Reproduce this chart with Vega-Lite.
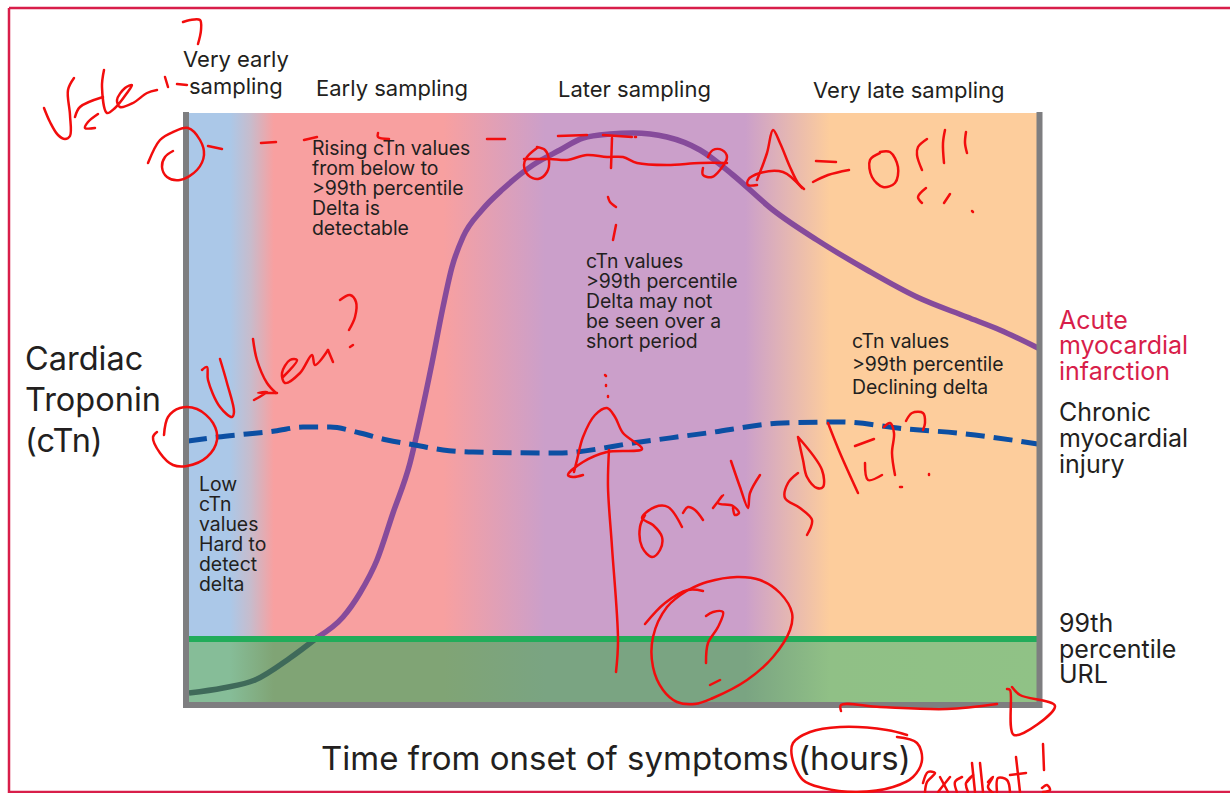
{"$schema":"https://vega.github.io/schema/vega-lite/v6.json","width":1230,"height":793,"padding":0,"autosize":{"type":"none"},"background":"white","config":{"view":{"stroke":null}},
"resolve":{"scale":{"color":"independent"}},
"datasets":{
"zone":[{"h":3,"h2":851,"l":3,"l2":592}],
"band":[{"h":3,"h2":851,"l":3,"l2":63}],
"frames":[{"h":-177,"h2":-177,"l":697,"l2":-88},{"h":-177,"h2":1044,"l":697,"l2":697},{"h":-177,"h2":1044,"l":-87,"l2":-87}],
"axes":[{"h":0,"h2":0,"l":593,"l2":-3},{"h":-3,"h2":856,"l":0,"l2":0},{"h":853.5,"h2":853.5,"l":593,"l2":-3}],
"url":[{"h":3,"h2":851,"l":66,"l2":66}],
"ami":[{"s":"above","h":132,"l":68},{"s":"above","h":157,"l":88},{"s":"above","h":174,"l":112},{"s":"above","h":191,"l":145},{"s":"above","h":207,"l":192},{"s":"above","h":224,"l":242},{"s":"above","h":234,"l":285},{"s":"above","h":246,"l":342},{"s":"above","h":257,"l":398},{"s":"above","h":266,"l":438},{"s":"above","h":277,"l":468},{"s":"above","h":296,"l":495},{"s":"above","h":317,"l":516},{"s":"above","h":347,"l":540},{"s":"above","h":374,"l":555},{"s":"above","h":397,"l":567},{"s":"above","h":424,"l":571},{"s":"above","h":447,"l":572},{"s":"above","h":481,"l":568},{"s":"above","h":514,"l":555},{"s":"above","h":547,"l":530},{"s":"above","h":587,"l":495},{"s":"above","h":631,"l":465},{"s":"above","h":681,"l":435},{"s":"above","h":731,"l":408},{"s":"above","h":781,"l":388},{"s":"above","h":814,"l":375},{"s":"above","h":852,"l":357},{"s":"below","h":3,"l":12},{"s":"below","h":37,"l":17},{"s":"below","h":69,"l":25},{"s":"below","h":104,"l":47},{"s":"below","h":132,"l":68}],
"chronic":[{"h":2,"l":264},{"h":32,"l":268},{"h":61,"l":271},{"h":89,"l":274},{"h":117,"l":278},{"h":144,"l":278},{"h":174,"l":272},{"h":201,"l":265},{"h":229,"l":260},{"h":257,"l":255},{"h":287,"l":253},{"h":371,"l":252},{"h":454,"l":263},{"h":521,"l":272},{"h":597,"l":282},{"h":654,"l":283},{"h":721,"l":276},{"h":771,"l":272},{"h":852,"l":261}],
"labels":[
{"role":"note","h":126,"l":556.5,"label":"Rising cTn values"},{"role":"note","h":126,"l":536.5,"label":"from below to"},{"role":"note","h":126,"l":516.5,"label":">99th percentile"},{"role":"note","h":126,"l":496.5,"label":"Delta is"},{"role":"note","h":126,"l":476.5,"label":"detectable"},
{"role":"note","h":400,"l":443,"label":"cTn values"},{"role":"note","h":400,"l":423,"label":">99th percentile"},{"role":"note","h":400,"l":403,"label":"Delta may not"},{"role":"note","h":400,"l":383,"label":"be seen over a"},{"role":"note","h":400,"l":363,"label":"short period"},
{"role":"note","h":666,"l":363,"label":"cTn values"},{"role":"note","h":666,"l":340,"label":">99th percentile"},{"role":"note","h":666,"l":317,"label":"Declining delta"},
{"role":"note","h":13,"l":220,"label":"Low"},{"role":"note","h":13,"l":200,"label":"cTn"},{"role":"note","h":13,"l":180,"label":"values"},{"role":"note","h":13,"l":160,"label":"Hard to"},{"role":"note","h":13,"l":140,"label":"detect"},{"role":"note","h":13,"l":120,"label":"delta"},
{"role":"head","h":-3,"l":645,"label":"Very early"},{"role":"head","h":3,"l":618,"label":"sampling"},{"role":"head","h":130,"l":616,"label":"Early sampling"},{"role":"head","h":372,"l":615,"label":"Later sampling"},{"role":"head","h":627,"l":614,"label":"Very late sampling"},
{"role":"axis","h":135,"l":-55,"label":"Time from onset of symptoms (hours)"},
{"role":"ylab","h":-161,"l":345,"label":"Cardiac"},{"role":"ylab","h":-161,"l":304,"label":"Troponin"},{"role":"ylab","h":-161,"l":263,"label":"(cTn)"},
{"role":"acute","h":873,"l":384,"label":"Acute"},{"role":"acute","h":873,"l":359,"label":"myocardial"},{"role":"acute","h":873,"l":333,"label":"infarction"},
{"role":"side","h":873,"l":292,"label":"Chronic"},{"role":"side","h":873,"l":266,"label":"myocardial"},{"role":"side","h":873,"l":240,"label":"injury"},
{"role":"side","h":873,"l":81,"label":"99th"},{"role":"side","h":873,"l":55,"label":"percentile"},{"role":"side","h":873,"l":30,"label":"URL"}],
"ink":[
{"s":"a1","h":-3,"l":683},{"s":"a1","h":4,"l":685},{"s":"a1","h":14,"l":685},{"s":"a1","h":15,"l":675},{"s":"a1","h":12,"l":661},
{"s":"a2","h":-142,"l":597},{"s":"a2","h":-136,"l":583},{"s":"a2","h":-128,"l":570},{"s":"a2","h":-121,"l":566},{"s":"a2","h":-116,"l":569},{"s":"a2","h":-116,"l":590},{"s":"a2","h":-118,"l":615},{"s":"a2","h":-112,"l":627},
{"s":"a3","h":-111,"l":588},{"s":"a3","h":-106,"l":598},{"s":"a3","h":-83,"l":608},
{"s":"a4","h":-82,"l":635},{"s":"a4","h":-84,"l":618},{"s":"a4","h":-79,"l":592},{"s":"a4","h":-71,"l":597},{"s":"a4","h":-59,"l":612},{"s":"a4","h":-54,"l":620},{"s":"a4","h":-61,"l":617},{"s":"a4","h":-69,"l":605},{"s":"a4","h":-66,"l":598},{"s":"a4","h":-53,"l":602},{"s":"a4","h":-39,"l":612},{"s":"a4","h":-29,"l":615},
{"s":"a5","h":-21,"l":628},{"s":"a5","h":-18,"l":618},
{"s":"a6","h":-9,"l":621},{"s":"a6","h":1,"l":620},
{"s":"a7","h":-88,"l":591},{"s":"a7","h":-98,"l":583},{"s":"a7","h":-101,"l":577},{"s":"a7","h":-91,"l":577},
{"s":"b1","h":-38,"l":542},{"s":"b1","h":-26,"l":565},{"s":"b1","h":-13,"l":573},{"s":"b1","h":2,"l":577},{"s":"b1","h":14,"l":565},{"s":"b1","h":18,"l":550},{"s":"b1","h":11,"l":535},{"s":"b1","h":-6,"l":525},{"s":"b1","h":-19,"l":528},{"s":"b1","h":-24,"l":538},{"s":"b1","h":-21,"l":548},{"s":"b1","h":-13,"l":554},
{"s":"b2","h":22,"l":559},{"s":"b2","h":36,"l":556},
{"s":"b3","h":75,"l":562},{"s":"b3","h":90,"l":563},
{"s":"b4","h":118,"l":565},{"s":"b4","h":131,"l":568},
{"s":"b5","h":192,"l":572},{"s":"b5","h":192,"l":568},{"s":"b5","h":203,"l":566},
{"s":"b6","h":301,"l":566},{"s":"b6","h":319,"l":566},
{"s":"b7","h":372,"l":569},{"s":"b7","h":401,"l":570},
{"s":"b8","h":417,"l":570},{"s":"b8","h":446,"l":568},
{"s":"b9","h":449,"l":568},{"s":"b9","h":450,"l":568},
{"s":"c1","h":351,"l":557},{"s":"c1","h":341,"l":548},{"s":"c1","h":338,"l":540},{"s":"c1","h":342,"l":530},{"s":"c1","h":352,"l":526},{"s":"c1","h":361,"l":533},{"s":"c1","h":363,"l":545},{"s":"c1","h":359,"l":555},{"s":"c1","h":351,"l":558},
{"s":"c2","h":338,"l":546},{"s":"c2","h":364,"l":546},{"s":"c2","h":381,"l":545},{"s":"c2","h":401,"l":550},{"s":"c2","h":421,"l":548},{"s":"c2","h":437,"l":548},{"s":"c2","h":451,"l":542},{"s":"c2","h":481,"l":540},{"s":"c2","h":514,"l":542},{"s":"c2","h":541,"l":542},
{"s":"c3","h":426,"l":567},{"s":"c3","h":425,"l":537},
{"s":"c4","h":522,"l":548},{"s":"c4","h":527,"l":555},{"s":"c4","h":536,"l":555},{"s":"c4","h":541,"l":548},{"s":"c4","h":534,"l":535},{"s":"c4","h":526,"l":528},{"s":"c4","h":517,"l":530},{"s":"c4","h":517,"l":537},
{"s":"c5","h":422,"l":508},{"s":"c5","h":424,"l":503},{"s":"c5","h":430,"l":498},
{"s":"c6","h":430,"l":480},{"s":"c6","h":427,"l":465},
{"s":"d1","h":571,"l":525},{"s":"d1","h":581,"l":552},{"s":"d1","h":587,"l":575},{"s":"d1","h":594,"l":562},{"s":"d1","h":604,"l":538},{"s":"d1","h":612,"l":522},{"s":"d1","h":618,"l":516},
{"s":"d2","h":616,"l":517},{"s":"d2","h":597,"l":533},{"s":"d2","h":574,"l":532},{"s":"d2","h":562,"l":525},{"s":"d2","h":562,"l":520},{"s":"d2","h":571,"l":520},
{"s":"d3","h":630,"l":544},{"s":"d3","h":650,"l":543},
{"s":"d4","h":627,"l":523},{"s":"d4","h":642,"l":530},{"s":"d4","h":663,"l":535},
{"s":"d5","h":694,"l":552},{"s":"d5","h":684,"l":545},{"s":"d5","h":686,"l":528},{"s":"d5","h":697,"l":518},{"s":"d5","h":709,"l":522},{"s":"d5","h":712,"l":538},{"s":"d5","h":704,"l":553},{"s":"d5","h":694,"l":553},
{"s":"d6","h":741,"l":566},{"s":"d6","h":732,"l":558},{"s":"d6","h":731,"l":550},{"s":"d6","h":736,"l":535},
{"s":"d7","h":759,"l":575},{"s":"d7","h":757,"l":562},{"s":"d7","h":758,"l":542},
{"s":"d8","h":780,"l":573},{"s":"d8","h":779,"l":562},{"s":"d8","h":781,"l":552},
{"s":"d9","h":740,"l":517},{"s":"d9","h":732,"l":508},{"s":"d9","h":736,"l":502},
{"s":"d10","h":764,"l":511},{"s":"d10","h":758,"l":502},
{"s":"d11","h":786,"l":494},{"s":"d11","h":787,"l":493},
{"s":"e1","h":419,"l":330},{"s":"e1","h":420,"l":329},
{"s":"e2","h":420,"l":320},{"s":"e2","h":420,"l":319},
{"s":"e3","h":422,"l":309},{"s":"e3","h":422,"l":308},
{"s":"e4","h":397,"l":230},{"s":"e4","h":387,"l":228},{"s":"e4","h":382,"l":230},{"s":"e4","h":397,"l":243},{"s":"e4","h":421,"l":253},{"s":"e4","h":456,"l":256},{"s":"e4","h":437,"l":272},{"s":"e4","h":429,"l":288},{"s":"e4","h":421,"l":297},{"s":"e4","h":409,"l":290},{"s":"e4","h":397,"l":268},{"s":"e4","h":391,"l":245},{"s":"e4","h":388,"l":233},
{"s":"e5","h":423,"l":255},{"s":"e5","h":422,"l":218},{"s":"e5","h":426,"l":158},{"s":"e5","h":432,"l":65},{"s":"e5","h":430,"l":33},
{"s":"f1","h":459,"l":190},{"s":"f1","h":454,"l":178},{"s":"f1","h":456,"l":158},{"s":"f1","h":466,"l":148},{"s":"f1","h":474,"l":155},{"s":"f1","h":476,"l":168},{"s":"f1","h":467,"l":180},{"s":"f1","h":456,"l":187},{"s":"f1","h":469,"l":198},{"s":"f1","h":482,"l":198},{"s":"f1","h":496,"l":178},
{"s":"f2","h":497,"l":192},{"s":"f2","h":502,"l":198},{"s":"f2","h":509,"l":195},{"s":"f2","h":517,"l":185},
{"s":"f3","h":527,"l":197},{"s":"f3","h":537,"l":210},{"s":"f3","h":532,"l":202},{"s":"f3","h":547,"l":199},{"s":"f3","h":553,"l":192},{"s":"f3","h":549,"l":190},{"s":"f3","h":547,"l":197},
{"s":"f4","h":545,"l":244},{"s":"f4","h":554,"l":218},{"s":"f4","h":562,"l":197},{"s":"f4","h":564,"l":212},{"s":"f4","h":574,"l":230},
{"s":"f5","h":612,"l":232},{"s":"f5","h":602,"l":222},{"s":"f5","h":599,"l":207},{"s":"f5","h":614,"l":197},{"s":"f5","h":626,"l":185},{"s":"f5","h":621,"l":170},
{"s":"f6","h":612,"l":268},{"s":"f6","h":617,"l":245},{"s":"f6","h":621,"l":228},{"s":"f6","h":631,"l":217},{"s":"f6","h":637,"l":218},{"s":"f6","h":636,"l":235},{"s":"f6","h":612,"l":268},
{"s":"f7","h":642,"l":282},{"s":"f7","h":654,"l":252},{"s":"f7","h":672,"l":212},
{"s":"f8","h":669,"l":259},{"s":"f8","h":688,"l":266},
{"s":"f9","h":679,"l":242},{"s":"f9","h":682,"l":225},{"s":"f9","h":696,"l":230},
{"s":"f10","h":698,"l":278},{"s":"f10","h":704,"l":282},{"s":"f10","h":708,"l":272},{"s":"f10","h":706,"l":252},{"s":"f10","h":709,"l":230},
{"s":"f11","h":714,"l":218},{"s":"f11","h":716,"l":218},
{"s":"f12","h":743,"l":231},{"s":"f12","h":743,"l":230},
{"s":"f13","h":720,"l":284},{"s":"f13","h":726,"l":292},{"s":"f13","h":737,"l":292},{"s":"f13","h":739,"l":282},{"s":"f13","h":737,"l":275},
{"s":"g1","h":459,"l":81},{"s":"g1","h":479,"l":102},{"s":"g1","h":502,"l":115},{"s":"g1","h":517,"l":114},
{"s":"g2","h":502,"l":115},{"s":"g2","h":481,"l":98},{"s":"g2","h":467,"l":68},{"s":"g2","h":467,"l":38},{"s":"g2","h":477,"l":15},{"s":"g2","h":491,"l":3},{"s":"g2","h":509,"l":1},{"s":"g2","h":527,"l":7},{"s":"g2","h":561,"l":25},{"s":"g2","h":587,"l":48},{"s":"g2","h":604,"l":75},{"s":"g2","h":606,"l":92},{"s":"g2","h":594,"l":112},{"s":"g2","h":574,"l":125},{"s":"g2","h":551,"l":128},{"s":"g2","h":521,"l":123},{"s":"g2","h":502,"l":115},
{"s":"g3","h":520,"l":89},{"s":"g3","h":527,"l":93},{"s":"g3","h":537,"l":93},{"s":"g3","h":532,"l":78},{"s":"g3","h":522,"l":62},{"s":"g3","h":520,"l":42},
{"s":"g4","h":524,"l":20},{"s":"g4","h":534,"l":25},
{"s":"h1","h":655,"l":-6},{"s":"h1","h":655,"l":0},{"s":"h1","h":694,"l":-2},{"s":"h1","h":761,"l":-4},{"s":"h1","h":811,"l":1},
{"s":"h2","h":821,"l":16},{"s":"h2","h":824,"l":15},{"s":"h2","h":828,"l":-30},{"s":"h2","h":869,"l":-1},{"s":"h2","h":834,"l":10},{"s":"h2","h":826,"l":18},
{"s":"h3","h":721,"l":-30},{"s":"h3","h":701,"l":-25},{"s":"h3","h":654,"l":-22},{"s":"h3","h":624,"l":-27},{"s":"h3","h":607,"l":-38},{"s":"h3","h":606,"l":-52},{"s":"h3","h":617,"l":-75},{"s":"h3","h":637,"l":-83},{"s":"h3","h":671,"l":-87},{"s":"h3","h":707,"l":-82},{"s":"h3","h":727,"l":-72},{"s":"h3","h":736,"l":-55},{"s":"h3","h":731,"l":-38},{"s":"h3","h":711,"l":-32},
{"s":"i1","h":737,"l":-78},{"s":"i1","h":742,"l":-67},{"s":"i1","h":749,"l":-68},{"s":"i1","h":741,"l":-77},{"s":"i1","h":739,"l":-87},
{"s":"i2","h":754,"l":-72},{"s":"i2","h":762,"l":-87},
{"s":"i3","h":764,"l":-72},{"s":"i3","h":752,"l":-87},
{"s":"i4","h":776,"l":-72},{"s":"i4","h":769,"l":-77},{"s":"i4","h":771,"l":-87},
{"s":"i5","h":781,"l":-77},{"s":"i5","h":787,"l":-70},{"s":"i5","h":780,"l":-78},{"s":"i5","h":782,"l":-87},
{"s":"i6","h":786,"l":-58},{"s":"i6","h":789,"l":-87},
{"s":"i7","h":794,"l":-58},{"s":"i7","h":797,"l":-87},
{"s":"i8","h":802,"l":-77},{"s":"i8","h":807,"l":-72},{"s":"i8","h":802,"l":-82},{"s":"i8","h":807,"l":-88},
{"s":"i9","h":811,"l":-87},{"s":"i9","h":812,"l":-73},{"s":"i9","h":821,"l":-75},{"s":"i9","h":824,"l":-87},
{"s":"i10","h":830,"l":-52},{"s":"i10","h":834,"l":-87},
{"s":"i11","h":824,"l":-70},{"s":"i11","h":840,"l":-68},
{"s":"i12","h":857,"l":-39},{"s":"i12","h":858,"l":-65},
{"s":"i13","h":856,"l":-83},{"s":"i13","h":861,"l":-80},{"s":"i13","h":864,"l":-85},{"s":"i13","h":857,"l":-87},
{"s":"j1","h":-29,"l":273},{"s":"j1","h":-33,"l":268},{"s":"j1","h":-26,"l":252},{"s":"j1","h":-13,"l":240},{"s":"j1","h":1,"l":239},{"s":"j1","h":21,"l":248},{"s":"j1","h":31,"l":265},{"s":"j1","h":27,"l":282},{"s":"j1","h":11,"l":296},{"s":"j1","h":-6,"l":297},{"s":"j1","h":-18,"l":288},{"s":"j1","h":-22,"l":270},
{"s":"j2","h":16,"l":335},{"s":"j2","h":21,"l":338},{"s":"j2","h":22,"l":325},{"s":"j2","h":34,"l":298},{"s":"j2","h":46,"l":288},{"s":"j2","h":48,"l":293},{"s":"j2","h":41,"l":322},{"s":"j2","h":34,"l":346},
{"s":"j3","h":68,"l":305},{"s":"j3","h":81,"l":313},{"s":"j3","h":72,"l":312},{"s":"j3","h":91,"l":312},
{"s":"j4","h":67,"l":366},{"s":"j4","h":71,"l":345},{"s":"j4","h":81,"l":322},{"s":"j4","h":90,"l":312},
{"s":"j5","h":97,"l":328},{"s":"j5","h":111,"l":345},{"s":"j5","h":104,"l":345},{"s":"j5","h":96,"l":332},{"s":"j5","h":99,"l":322},{"s":"j5","h":114,"l":332},{"s":"j5","h":126,"l":350},{"s":"j5","h":129,"l":340},{"s":"j5","h":142,"l":355},
{"s":"j6","h":142,"l":355},{"s":"j6","h":147,"l":343},
{"s":"j7","h":154,"l":405},{"s":"j7","h":164,"l":410},{"s":"j7","h":170,"l":403},{"s":"j7","h":169,"l":388},{"s":"j7","h":163,"l":375},
{"s":"j8","h":164,"l":358},{"s":"j8","h":167,"l":360}
]},
"encoding":{"x":{"field":"h","type":"quantitative","axis":null,"scale":{"domain":[-186,1044],"nice":false,"zero":false}},"y":{"field":"l","type":"quantitative","axis":null,"scale":{"domain":[-88,705],"nice":false,"zero":false}}},
"layer":[
{"data":{"name":"zone"},"mark":{"type":"rect","fill":{"gradient":"linear","x1":0,"y1":0,"x2":1,"y2":0,"stops":[{"offset":0,"color":"#abc8e8"},{"offset":0.048,"color":"#abc8e8"},{"offset":0.072,"color":"#c6bccd"},{"offset":0.1,"color":"#f8a0a0"},{"offset":0.3,"color":"#f8a0a0"},{"offset":0.42,"color":"#cb9fca"},{"offset":0.656,"color":"#cb9fca"},{"offset":0.756,"color":"#fdcd9c"},{"offset":1,"color":"#fdcd9c"}]}},"encoding":{"x2":{"field":"h2"},"y2":{"field":"l2"}}},
{"data":{"name":"band"},"mark":{"type":"rect","fill":{"gradient":"linear","x1":0,"y1":0,"x2":1,"y2":0,"stops":[{"offset":0,"color":"#86bd98"},{"offset":0.048,"color":"#86bd98"},{"offset":0.1,"color":"#80a475"},{"offset":0.3,"color":"#80a475"},{"offset":0.42,"color":"#7aa482"},{"offset":0.656,"color":"#7aa482"},{"offset":0.756,"color":"#90c086"},{"offset":1,"color":"#90c286"}]}},"encoding":{"x2":{"field":"h2"},"y2":{"field":"l2"}}},
{"data":{"name":"ami"},"mark":{"type":"line","interpolate":"monotone","strokeWidth":5.5},"encoding":{"detail":{"field":"s"},"color":{"field":"s","type":"nominal","legend":null,"scale":{"domain":["above","below"],"range":["#864b9b","#3f6a5a"]}}}},
{"data":{"name":"chronic"},"mark":{"type":"line","interpolate":"monotone","strokeWidth":5,"stroke":"#0c4fa3","strokeDash":[19,9]}},
{"data":{"name":"url"},"mark":{"type":"rule","stroke":"#22ac5a","strokeWidth":6},"encoding":{"x2":{"field":"h2"},"y2":{"field":"l2"}}},
{"data":{"name":"axes"},"mark":{"type":"rule","stroke":"#7e7e80","strokeWidth":6},"encoding":{"x2":{"field":"h2"},"y2":{"field":"l2"}}},
{"data":{"name":"frames"},"mark":{"type":"rule","stroke":"#d81e4a","strokeWidth":2.5},"encoding":{"x2":{"field":"h2"},"y2":{"field":"l2"}}},
{"data":{"name":"labels"},"mark":{"type":"text","align":"left","baseline":"middle","font":"Inter"},"encoding":{"text":{"field":"label","type":"nominal"},"size":{"field":"role","type":"nominal","legend":null,"scale":{"type":"ordinal","domain":["note","head","axis","ylab","acute","side"],"range":[19.4,22,33,32.5,25,25]}},"color":{"field":"role","type":"nominal","legend":null,"scale":{"domain":["note","head","axis","ylab","acute","side"],"range":["#231f20","#231f20","#231f20","#231f20","#d81e4a","#231f20"]}}}},
{"data":{"name":"ink"},"transform":[{"window":[{"op":"row_number","as":"n"}]}],"mark":{"type":"line","interpolate":"catmull-rom","stroke":"#f20d0d","strokeWidth":2.5,"strokeCap":"round","strokeJoin":"round"},"encoding":{"detail":{"field":"s"},"order":{"field":"n"}}}
]}
